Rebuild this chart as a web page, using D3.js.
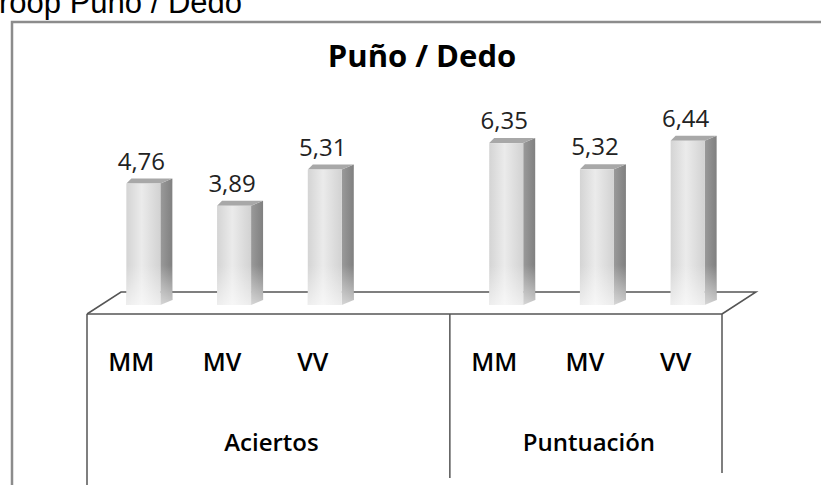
<!DOCTYPE html>
<html>
<head>
<meta charset="utf-8">
<script src="https://cdn.jsdelivr.net/npm/d3@7"></script>
<style>
  body { margin: 0; background: #fff; }
  svg { display: block; }
</style>
</head>
<body>
<div id="chart"></div>
<script>
// data
var groups = ["Aciertos", "Puntuación"];
var subcats = ["MM", "MV", "VV"];
var aciertos = [4.76, 3.89, 5.31];
var puntuacion = [6.35, 5.32, 6.44];
var series = [aciertos, puntuacion];
// the Aciertos group keeps an empty 4th slot, as in the original sheet
var slotsPerGroup = [4, 3];

var w = 821, h = 485;

var svg = d3.select("#chart").append("svg")
    .attr("width", w)
    .attr("height", h);

// slots along the floor front
var slots = [];
groups.forEach(function (g, gi) {
    for (var i = 0; i < slotsPerGroup[gi]; i++) {
        slots.push({ key: g + "|" + i, group: g, gi: gi, label: subcats[i] || "", value: series[gi][i] });
    }
});

var floorX0 = 87, floorX1 = 722, floorY = 314;
var depthX = 34, depthY = -22;

var xScale = d3.scaleBand()
    .domain(slots.map(function (d) { return d.key; }))
    .range([floorX0, floorX1])
    .padding(0);

var yScale = d3.scaleLinear()
    .domain([0, 7])
    .range([305, 305 - 7 * 25.5]);

var defs = svg.append("defs");
var gf = defs.append("linearGradient").attr("id", "front").attr("x1", "0").attr("x2", "1").attr("y1", "0").attr("y2", "0");
gf.append("stop").attr("offset", "0%").attr("stop-color", "#d4d4d4");
gf.append("stop").attr("offset", "45%").attr("stop-color", "#ebebeb");
gf.append("stop").attr("offset", "100%").attr("stop-color", "#d2d2d2");
var gs = defs.append("linearGradient").attr("id", "side").attr("x1", "0").attr("x2", "1").attr("y1", "0").attr("y2", "0");
gs.append("stop").attr("offset", "0%").attr("stop-color", "#9a9a9a");
gs.append("stop").attr("offset", "100%").attr("stop-color", "#808080");
var gfade = defs.append("linearGradient").attr("id", "fade").attr("x1", "0").attr("x2", "0").attr("y1", "0").attr("y2", "1");
gfade.append("stop").attr("offset", "0%").attr("stop-color", "#fff").attr("stop-opacity", 0);
gfade.append("stop").attr("offset", "100%").attr("stop-color", "#fff").attr("stop-opacity", 0.6);

// cut-off text above the frame (cropped in the source picture too)
svg.append("text")
    .attr("x", -1).attr("y", 13)
    .attr("font-family", "Liberation Sans, Arial, sans-serif")
    .attr("font-size", "31px")
    .attr("fill", "#000")
    .text("roop Puño / Dedo");

// outer frame
svg.append("rect")
    .attr("x", 12).attr("y", 22)
    .attr("width", w + 20).attr("height", h + 20)
    .attr("fill", "#fff")
    .attr("stroke", "#8c8c8c")
    .attr("stroke-width", 2.5);

// title
svg.append("text")
    .attr("x", 422).attr("y", 67)
    .attr("text-anchor", "middle")
    .attr("font-family", "Open Sans, sans-serif")
    .attr("font-weight", "bold")
    .attr("font-size", "31px")
    .attr("fill", "#000")
    .text("Puño / Dedo");

// floor top: back edge and diagonals
var floor = svg.append("g").attr("fill", "none").attr("stroke", "#555").attr("stroke-width", 1.5);
floor.append("path")
    .attr("d", "M" + floorX0 + "," + floorY + "L" + (floorX0 + depthX) + "," + (floorY + depthY) +
        "L" + (floorX1 + depthX) + "," + (floorY + depthY) + "L" + floorX1 + "," + floorY);

// bars
var barW = 34, sideW = 12, sideH = 5, barOff = 11;
var bars = svg.append("g").selectAll("g")
    .data(slots.filter(function (d) { return d.value != null; }))
    .enter()
    .append("g");

function cx(d) { return xScale(d.key) + xScale.bandwidth() / 2 + barOff; }

bars.append("path")
    .attr("d", function (d) {
        var x = cx(d) + barW / 2, yt = yScale(d.value), yb = yScale(0);
        return "M" + x + "," + yt + "L" + (x + sideW) + "," + (yt - sideH) + "L" + (x + sideW) + "," + (yb - sideH) + "L" + x + "," + yb + "Z";
    })
    .attr("fill", "url(#side)");

bars.append("path")
    .attr("d", function (d) {
        var x = cx(d) - barW / 2, yt = yScale(d.value);
        return "M" + x + "," + yt + "L" + (x + sideH) + "," + (yt - sideH) + "L" + (x + barW + sideW) + "," + (yt - sideH) + "L" + (x + barW) + "," + yt + "Z";
    })
    .attr("fill", "#a8a8a8");

bars.append("rect")
    .attr("x", function (d) { return cx(d) - barW / 2; })
    .attr("y", function (d) { return yScale(d.value); })
    .attr("width", barW)
    .attr("height", function (d) { return yScale(0) - yScale(d.value); })
    .attr("fill", "url(#front)");

bars.append("rect")
    .attr("x", function (d) { return cx(d) - barW / 2; })
    .attr("y", function (d) { return yScale(0) - 40; })
    .attr("width", barW + sideW)
    .attr("height", 40)
    .attr("fill", "url(#fade)");

// value labels
bars.append("text")
    .attr("x", function (d) { return cx(d) - 2; })
    .attr("y", function (d) { return yScale(d.value) - 14; })
    .attr("text-anchor", "middle")
    .attr("font-family", "Open Sans, sans-serif")
    .attr("font-size", "24px")
    .attr("fill", "#222")
    .text(function (d) { return d3.format(".2f")(d.value).replace(".", ","); });

// floor front face
var front = svg.append("g").attr("stroke", "#555").attr("stroke-width", 1.5);
front.append("line")
    .attr("x1", floorX0).attr("x2", floorX1)
    .attr("y1", floorY).attr("y2", floorY);
front.append("line")
    .attr("x1", floorX0).attr("x2", floorX0)
    .attr("y1", floorY).attr("y2", h);
front.append("line")
    .attr("x1", floorX1).attr("x2", floorX1)
    .attr("y1", floorY).attr("y2", 473);

// group dividers and labels
var groupBounds = groups.map(function (g) {
    var ks = slots.filter(function (d) { return d.group === g; });
    return { group: g, x0: xScale(ks[0].key), x1: xScale(ks[ks.length - 1].key) + xScale.bandwidth() };
});

front.selectAll(".div")
    .data(groupBounds.slice(1))
    .enter()
    .append("line")
    .attr("x1", function (d) { return d.x0; })
    .attr("x2", function (d) { return d.x0; })
    .attr("y1", floorY).attr("y2", 478);

svg.append("g").selectAll("text")
    .data(slots.filter(function (d) { return d.label; }))
    .enter()
    .append("text")
    .attr("x", function (d) { return xScale(d.key) + xScale.bandwidth() / 2 - 1; })
    .attr("y", 371)
    .attr("text-anchor", "middle")
    .attr("font-family", "Open Sans, sans-serif")
    .attr("font-weight", 600)
    .attr("font-size", "25px")
    .attr("fill", "#000")
    .text(function (d) { return d.label; });

svg.append("g").selectAll("text")
    .data(groupBounds)
    .enter()
    .append("text")
    .attr("x", function (d) { return (d.x0 + d.x1) / 2 + 3; })
    .attr("y", 451)
    .attr("text-anchor", "middle")
    .attr("font-family", "Open Sans, sans-serif")
    .attr("font-weight", 600)
    .attr("font-size", "24px")
    .attr("fill", "#000")
    .text(function (d) { return d.group; });
</script>
</body>
</html>
